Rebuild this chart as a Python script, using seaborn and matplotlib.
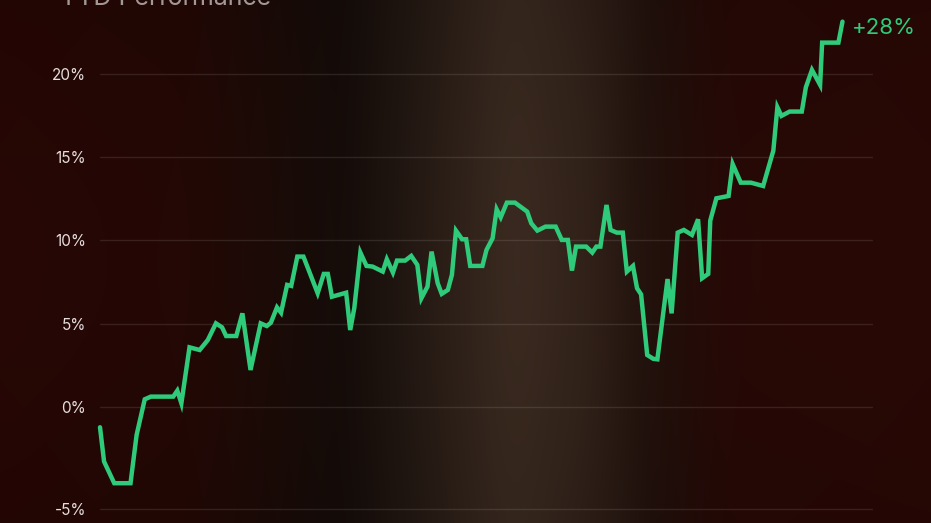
import numpy as np
import pandas as pd
import matplotlib.pyplot as plt
import seaborn as sns

# YTD performance, day of year vs cumulative return (%)
days = [0, 2, 7, 15, 18, 22, 25, 36, 38, 40, 44, 49, 53, 57, 60, 62, 67, 70, 74, 79,
        82, 84, 87, 89, 92, 94, 97, 100, 107, 110, 112, 114, 121, 123, 125, 128, 131, 134, 139, 141,
        144, 146, 150, 153, 156, 158, 161, 163, 166, 168, 171, 173, 175, 178, 180, 182, 188, 190, 193, 195,
        197, 200, 204, 210, 212, 215, 219, 224, 227, 230, 232, 234, 239, 242, 244, 246, 249, 251, 254, 257,
        259, 262, 264, 266, 269, 272, 274, 279, 281, 284, 287, 291, 294, 296, 299, 300, 303, 309, 311, 315,
        320, 326, 331, 333, 335, 339, 345, 347, 350, 354, 355, 363, 365]
returns = [-1.22, -3.28, -4.58, -4.58, -1.68, 0.46, 0.62, 0.62, 0.98, 0.22, 3.58, 3.42, 4.02, 5.02, 4.78, 4.26, 4.26, 5.62, 2.22, 5.02,
           4.86, 5.06, 5.98, 5.66, 7.33, 7.27, 9.03, 9.03, 6.83, 7.99, 7.99, 6.62, 6.86, 4.62, 5.93, 9.27, 8.47, 8.43, 8.13, 8.87,
           8.07, 8.79, 8.79, 9.07, 8.53, 6.53, 7.23, 9.33, 7.43, 6.79, 7.03, 7.93, 10.59, 10.07, 10.07, 8.47, 8.47, 9.43, 10.13, 11.87,
           11.39, 12.27, 12.27, 11.73, 11.03, 10.59, 10.83, 10.83, 10.03, 10.03, 8.19, 9.63, 9.63, 9.27, 9.63, 9.63, 12.13, 10.63, 10.47, 10.47,
           8.13, 8.47, 7.13, 6.76, 3.12, 2.89, 2.86, 7.68, 5.62, 10.47, 10.63, 10.33, 11.27, 7.73, 7.99, 11.19, 12.53, 12.67, 14.59, 13.47,
           13.47, 13.27, 15.39, 18.0, 17.48, 17.74, 17.74, 19.2, 20.24, 19.34, 21.88, 21.88, 23.14]

tick_vals = [-6.13, 0, 5, 10, 15, 20]
tick_labels = ["-5%", "0%", "5%", "10%", "15%", "20%"]
end_label = "+28%"
title = "YTD Performance"

df = pd.DataFrame({"day": days, "ret": returns})

sns.set_theme(style="dark")
plt.rcParams["font.family"] = ["Inter", "DejaVu Sans"]

fig = plt.figure(figsize=(9.31, 5.23), dpi=100)

# background gradient: dark red edges, dark band, warm brown glow in the middle
bg = fig.add_axes([0, 0, 1, 1], zorder=0)
stops = [0.0, 0.2, 0.3, 0.37, 0.45, 0.55, 0.63, 0.7, 0.78, 1.0]
cols = np.array([[38, 7, 5], [35, 8, 5], [26, 11, 7], [20, 12, 9], [36, 25, 19], [58, 42, 32],
                 [48, 33, 25], [32, 16, 11], [38, 9, 6], [40, 8, 5]]) / 255
xs = np.linspace(0, 1, 931)
row = np.stack([np.interp(xs, stops, cols[:, i]) for i in range(3)], axis=-1)
k = np.hanning(81)
k /= k.sum()
pad = np.pad(row, ((40, 40), (0, 0)), mode="edge")
row = np.stack([np.convolve(pad[:, i], k, mode="valid") for i in range(3)], axis=-1)
ys = np.linspace(0, 1, 523)[:, None, None]
img = row[None, :, :] * (0.92 + 0.1 * np.sin(np.pi * ys))
bg.imshow(np.clip(img, 0, 1), aspect="auto", extent=[0, 1, 0, 1])
bg.axis("off")

ax = fig.add_axes([100 / 931, 0, 773 / 931, 1], zorder=1)
ax.set_facecolor("none")
sns.lineplot(data=df, x="day", y="ret", ax=ax, color="#2fcb7a", linewidth=3.2,
             solid_joinstyle="miter", clip_on=False)

ax.set_xlim(0, 380)
ax.set_ylim(-6.97, 24.44)
ax.set_yticks(tick_vals)
ax.set_yticklabels(tick_labels)
ax.set_xticks([])
ax.set_xlabel("")
ax.set_ylabel("")
ax.tick_params(axis="y", length=0, pad=10, labelsize=11, labelcolor="#e6dedc")
ax.yaxis.grid(True, color="#ffffff", alpha=0.1, linewidth=1)
ax.xaxis.grid(False)
for s in ax.spines.values():
    s.set_visible(False)

ax.annotate(end_label, xy=(days[-1], returns[-1]), xytext=(7, -4.5),
            textcoords="offset points", ha="left", va="center",
            fontsize=16, color="#2fcb7a")

fig.text(60 / 931, 1 - 5 / 523, title, fontsize=18, color="#a39896",
         ha="left", va="baseline")

plt.savefig("out.png", dpi=100)
